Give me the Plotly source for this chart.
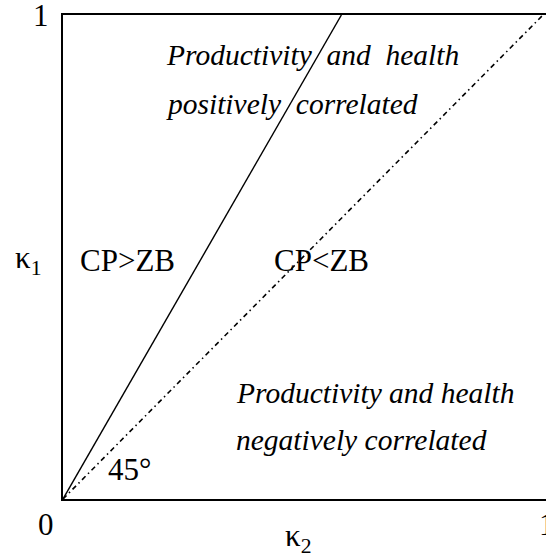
import plotly.graph_objects as go

# Boundary lines (kappa2 on x, kappa1 on y)
boundary_k2 = [0, 0.58]
boundary_k1 = [0, 1]
diag_k2 = [0, 1]
diag_k1 = [0, 1]

FONT = "Liberation Serif, Times New Roman, serif"
L, T, B, W, H = 63, 15, 55, 546, 554
PW = W - L
PH = H - T - B

fig = go.Figure()
fig.add_trace(go.Scatter(x=boundary_k2, y=boundary_k1, mode="lines",
                         line=dict(color="black", width=1.4), showlegend=False))
fig.add_trace(go.Scatter(x=diag_k2, y=diag_k1, mode="lines",
                         line=dict(color="black", width=1.6, dash="5px,3.5px,1.5px,3.5px"),
                         showlegend=False))

def ann(text, px, py, size=31, italic=False, xanchor="center"):
    if italic:
        text = "<i>" + text + "</i>"
    fig.add_annotation(x=(px - L) / PW, y=(H - B - py) / PH, xref="paper", yref="paper",
                       text=text, showarrow=False,
                       xanchor=xanchor, yanchor="middle",
                       font=dict(family=FONT, size=size, color="black"))

ann("Productivity\u00a0 and\u00a0 health", 164, 55, 29.5, True, "left")
ann("positively\u00a0 correlated", 164, 104, 29.5, True, "left")
ann("Productivity and health", 234, 393, 29.5, True, "left")
ann("negatively correlated", 234, 440, 29.5, True, "left")
ann("CP&gt;ZB", 127, 260)
ann("CP&lt;ZB", 321, 260)
ann("45°", 129, 469)
ann("κ<sub>1</sub>", 28, 260)
ann("κ<sub>2</sub>", 298, 538)
ann("0", 46, 524)
ann("1", 41, 15)
ann("1", 547, 524)

fig.update_layout(
    width=W, height=H,
    margin=dict(l=L, r=0, t=T, b=B),
    paper_bgcolor="white", plot_bgcolor="white",
    xaxis=dict(range=[0, PW / 480], showgrid=False, zeroline=False, showticklabels=False,
               ticks="", showline=True, mirror=True, linecolor="black", linewidth=1.5),
    yaxis=dict(range=[0, 1], showgrid=False, zeroline=False, showticklabels=False,
               ticks="", showline=True, mirror=False, linecolor="black", linewidth=1.5),
)
fig.write_html("out.html", config={"displayModeBar": False},
               post_script="document.body.style.margin='0';document.body.style.overflow='hidden';")
